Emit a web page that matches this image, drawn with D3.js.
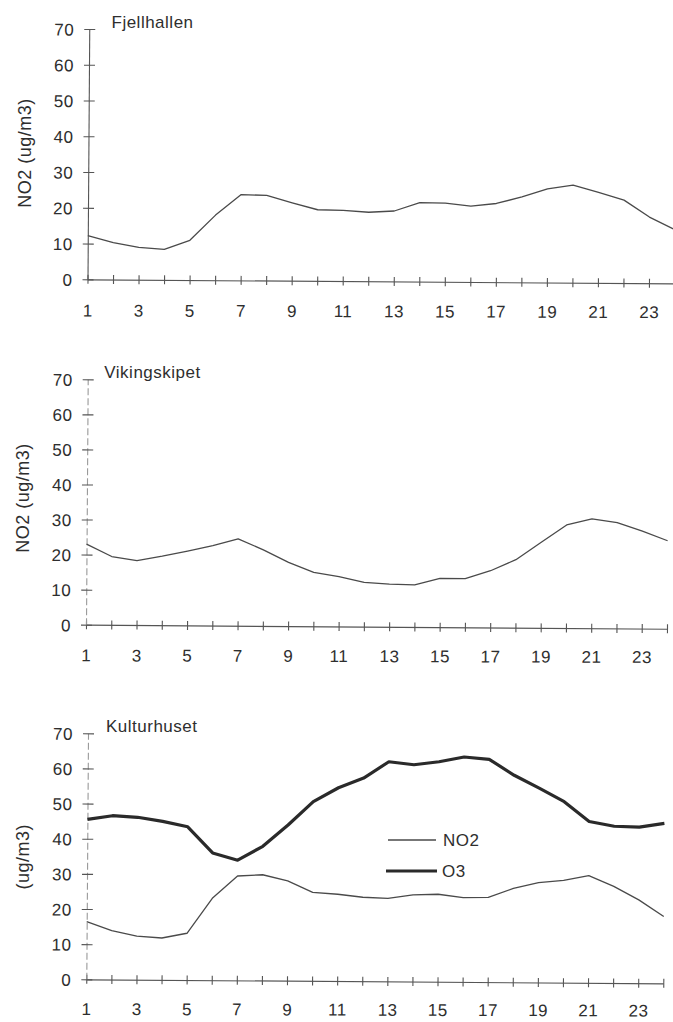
<!DOCTYPE html>
<html>
<head>
<meta charset="utf-8">
<script src="https://cdn.jsdelivr.net/npm/d3@7"></script>
<style>
  html, body { margin: 0; padding: 0; background: #fff; }
  svg text { font-family: "Liberation Sans", Arial, Helvetica, sans-serif; font-size: 17px; fill: #2e2e2e; letter-spacing: 0.5px; }
  svg text.ytitle { font-size: 18px; }
</style>
</head>
<body>
<svg id="chart" width="673" height="1022"></svg>
<script>
// Hours of the day (1-24) and axis ticks
const hours = d3.range(1, 25);
const yTicks = [0, 10, 20, 30, 40, 50, 60, 70];
const xTickLabels = hours.map(h => (h % 2 === 1 ? String(h) : ""));

// Stations and axis titles
const stations = ["Fjellhallen", "Vikingskipet", "Kulturhuset"];
const yTitles = ["NO2 (ug/m3)", "NO2 (ug/m3)", "(ug/m3)"];
const legendLabels = ["NO2", "O3"];

// Mean hourly concentrations (ug/m3)
const no2Fjellhallen = [12.2, 10.3, 9.0, 8.5, 11.1, 18.2, 24.0, 23.8, 21.8, 19.9, 19.8, 19.3,
                        19.7, 22.1, 22.0, 21.2, 22.0, 23.9, 26.2, 27.3, 25.3, 23.2, 18.5, 15.0];
const no2Vikingskipet = [23.0, 19.5, 18.4, 19.7, 21.2, 22.8, 24.8, 21.7, 18.2, 15.4, 14.2, 12.6,
                         12.2, 12.0, 13.9, 13.9, 16.2, 19.4, 24.4, 29.4, 31.2, 30.2, 27.8, 25.1];
const no2Kulturhuset = [16.4, 13.9, 12.4, 11.9, 13.3, 23.3, 29.7, 30.1, 28.4, 25.2, 24.7, 23.9,
                        23.6, 24.7, 24.9, 24.0, 24.1, 26.7, 28.4, 29.1, 30.5, 27.5, 23.7, 19.0];
const o3Kulturhuset = [45.5, 46.6, 46.2, 45.1, 43.6, 36.2, 34.2, 38.2, 44.3, 51.0, 55.0, 57.8,
                       62.5, 61.7, 62.6, 64.0, 63.4, 58.9, 55.3, 51.5, 45.9, 44.6, 44.4, 45.5];

const svg = d3.select("#chart");

// Panel placement: plot origin (hour 1, value 0), plot size, title positions
const tilt = 0.4;
const panels = [
  { name: stations[0], yTitle: yTitles[0], series: [{ values: no2Fjellhallen, kind: "no2" }],
    ox: 87.5, oy: 279.3, w: 587, h: 250.3, titleX: 111.5, titleY: 28, ytX: 25, ytY: 153,
    labelY: 31, faintY: false },
  { name: stations[1], yTitle: yTitles[1], series: [{ values: no2Vikingskipet, kind: "no2" }],
    ox: 86, oy: 624.7, w: 581, h: 245.4, titleX: 104.3, titleY: 377.5, ytX: 23, ytY: 498,
    labelY: 30.5, faintY: true },
  { name: stations[2], yTitle: yTitles[2],
    series: [{ values: o3Kulturhuset, kind: "o3" }, { values: no2Kulturhuset, kind: "no2" }],
    ox: 86.3, oy: 979.3, w: 577, h: 246, titleX: 106, titleY: 731.5, ytX: 23, ytY: 856.7,
    labelY: 29.5, faintY: true }
];

const lineStyle = {
  no2: { stroke: "#4a4a4a", width: 1.3 },
  o3:  { stroke: "#2a2a2a", width: 3.2 }
};

panels.forEach(p => {
  const x = d3.scaleLinear().domain([1, 24]).range([0, p.w]);
  const y = d3.scaleLinear().domain([0, 70]).range([0, -p.h]);

  const g = svg.append("g")
    .attr("transform", `translate(${p.ox},${p.oy}) rotate(${tilt})`);

  // Hour axis with crossing ticks
  const xAxis = g.append("g")
    .attr("color", "#555")
    .call(d3.axisBottom(x).tickValues(hours)
      .tickFormat((d, i) => xTickLabels[i]).tickSizeOuter(0));
  xAxis.attr("font-size", null).attr("font-family", null);
  xAxis.select(".domain").attr("stroke-width", 1.2);
  xAxis.selectAll(".tick line").attr("y1", -4.5).attr("y2", 4.5).attr("stroke-width", 1.1);
  // label row sits level on the page while the axis runs slightly downhill
  xAxis.selectAll(".tick text")
    .attr("y", d => p.labelY - 2.4 * (d - 1) / 23)
    .attr("dy", "0.36em");

  // Concentration axis
  const yAxis = g.append("g")
    .attr("color", "#555")
    .call(d3.axisLeft(y).tickValues(yTicks).tickSizeOuter(0));
  yAxis.attr("font-size", null).attr("font-family", null);
  yAxis.select(".domain")
    .attr("stroke-width", 1.1)
    .attr("stroke", p.faintY ? "#999" : "#555")
    .attr("stroke-dasharray", p.faintY ? "7,3" : null);
  yAxis.selectAll(".tick line").attr("x1", -5).attr("x2", 6).attr("stroke-width", 1.1);
  yAxis.selectAll(".tick text").attr("x", -15).attr("dy", "0.36em");

  // Series lines
  const line = d3.line().x((d, i) => x(hours[i])).y(d => y(d));
  p.series.forEach(s => {
    g.append("path")
      .datum(s.values)
      .attr("fill", "none")
      .attr("stroke", lineStyle[s.kind].stroke)
      .attr("stroke-width", lineStyle[s.kind].width)
      .attr("stroke-linejoin", "round")
      .attr("d", line);
  });

  // Station name
  svg.append("text")
    .attr("x", p.titleX).attr("y", p.titleY)
    .text(p.name);

  // Vertical axis title
  svg.append("text")
    .attr("class", "ytitle")
    .attr("transform", `translate(${p.ytX},${p.ytY}) rotate(-90)`)
    .attr("text-anchor", "middle")
    .attr("dy", "0.36em")
    .text(p.yTitle);
});

// Legend for the Kulturhuset panel
const legend = svg.append("g");
const legendItems = [
  { label: legendLabels[0], kind: "no2", x1: 388, x2: 436, y: 840, tx: 443 },
  { label: legendLabels[1], kind: "o3",  x1: 386, x2: 437, y: 871, tx: 442 }
];
legendItems.forEach(it => {
  legend.append("line")
    .attr("x1", it.x1).attr("x2", it.x2).attr("y1", it.y).attr("y2", it.y)
    .attr("stroke", lineStyle[it.kind].stroke)
    .attr("stroke-width", lineStyle[it.kind].width);
  legend.append("text")
    .attr("x", it.tx).attr("y", it.y).attr("dy", "0.36em")
    .text(it.label);
});
</script>
</body>
</html>
